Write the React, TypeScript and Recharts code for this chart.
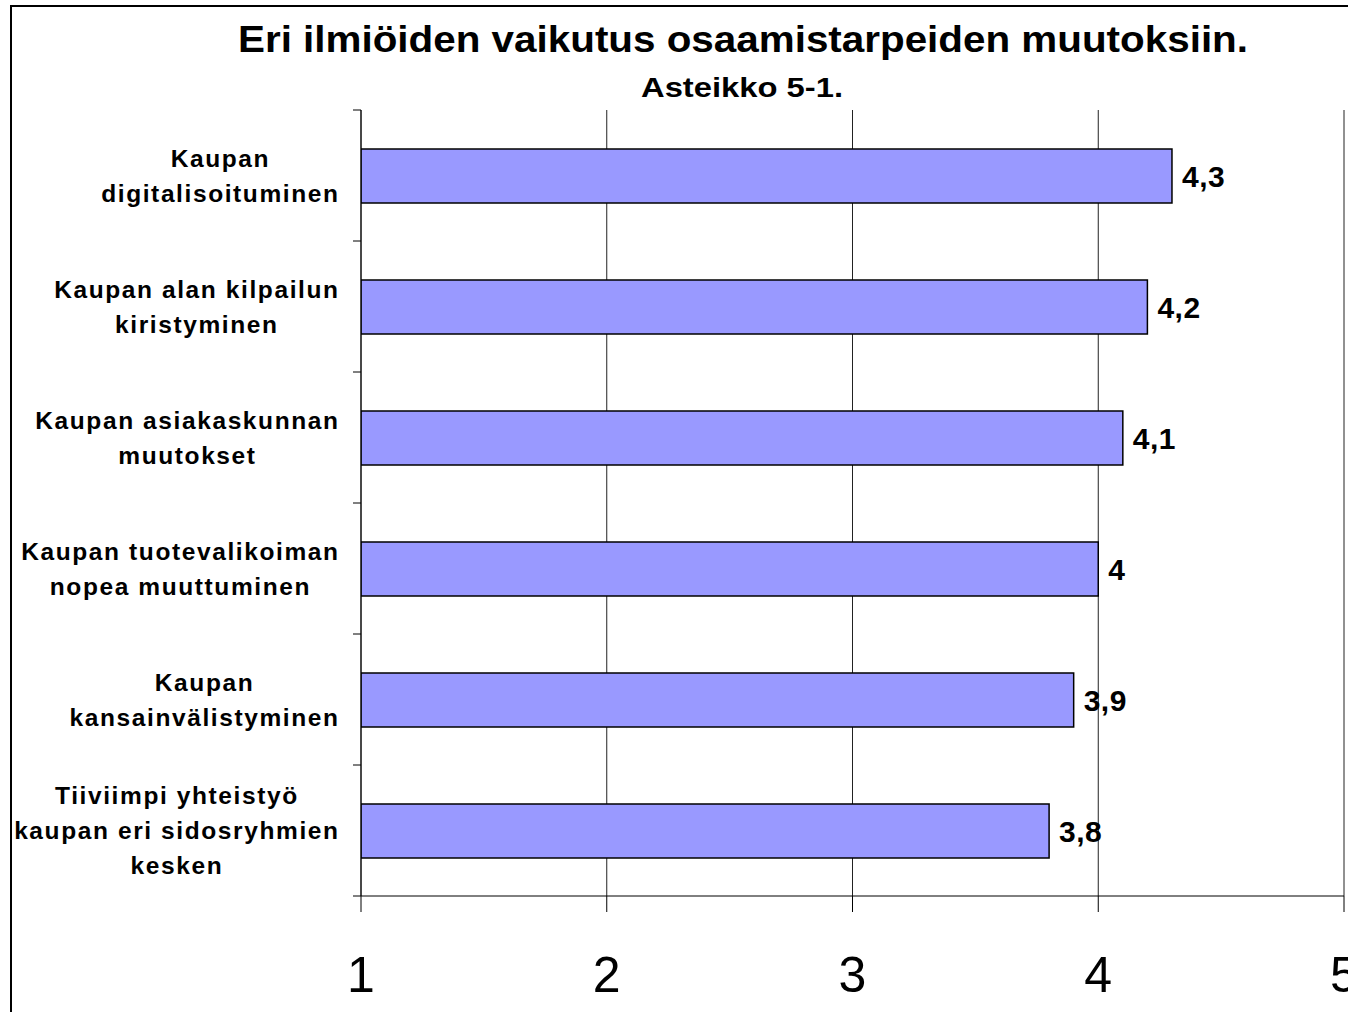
import React from "react";
import { BarChart, Bar, XAxis, YAxis, CartesianGrid, LabelList } from "recharts";

const TITLE = "Eri ilmiöiden vaikutus osaamistarpeiden muutoksiin.";
const SUBTITLE = "Asteikko 5-1.";

const categories: string[][] = [
  ["Kaupan", "digitalisoituminen"],
  ["Kaupan alan kilpailun", "kiristyminen"],
  ["Kaupan asiakaskunnan", "muutokset"],
  ["Kaupan tuotevalikoiman", "nopea muuttuminen"],
  ["Kaupan", "kansainvälistyminen"],
  ["Tiiviimpi yhteistyö", "kaupan eri sidosryhmien", "kesken"],
];
const values: number[] = [4.3, 4.2, 4.1, 4.0, 3.9, 3.8];
const xTicks: number[] = [1, 2, 3, 4, 5];
const xDomain: [number, number] = [1, 5];

const data = categories.map((lines, i) => ({ name: lines.join(" "), lines, value: values[i] }));

const W = 1348;
const H = 1012;
const M_TOP = 110;
const X_AXIS_H = 116;
const Y_AXIS_W = 361;
const M_RIGHT = 4;
const BAND = (H - M_TOP - X_AXIS_H) / categories.length;
const FONT = "'Liberation Sans', Arial, sans-serif";

let canvasCtx: CanvasRenderingContext2D | null = null;
function measure(text: string, font: string): number {
  if (!canvasCtx) {
    const c = document.createElement("canvas");
    canvasCtx = c.getContext("2d");
  }
  if (!canvasCtx) return text.length * 12;
  canvasCtx.font = font;
  return canvasCtx.measureText(text).width;
}

const LBL_SIZE = 24.5;
const LBL_SPACING = 1.6;
const LBL_RIGHT = 338;
const LINE_H = 35;

const CategoryTick = (props: any) => {
  const { payload, index } = props;
  const cy = payload.coordinate;
  const item = data[index] || data.find((d) => d.name === payload.value);
  const lines: string[] = item ? item.lines : [String(payload.value)];
  const font = `bold ${LBL_SIZE}px 'Liberation Sans'`;
  const widths = lines.map((l) => measure(l, font) + LBL_SPACING * (l.length - 1));
  const blockW = Math.max(...widths);
  const cx = LBL_RIGHT - blockW / 2;
  const startY = cy - ((lines.length - 1) * LINE_H) / 2;
  const isLast = index === categories.length - 1;
  return (
    <g>
      <line x1={Y_AXIS_W - 8} x2={Y_AXIS_W} y1={cy - BAND / 2} y2={cy - BAND / 2} stroke="#000" strokeWidth={1} />
      {isLast && (
        <line x1={Y_AXIS_W - 8} x2={Y_AXIS_W} y1={cy + BAND / 2} y2={cy + BAND / 2} stroke="#000" strokeWidth={1} />
      )}
      {lines.map((l, i) => (
        <text
          key={i}
          x={cx + LBL_SPACING / 2}
          y={startY + i * LINE_H}
          dy="0.36em"
          textAnchor="middle"
          fontFamily={FONT}
          fontWeight="bold"
          fontSize={LBL_SIZE}
          letterSpacing={LBL_SPACING}
          fill="#000"
        >
          {l}
        </text>
      ))}
    </g>
  );
};

const XTick = (props: any) => {
  const { payload } = props;
  return (
    <text
      x={payload.coordinate}
      y={992}
      textAnchor="middle"
      fontFamily={FONT}
      fontSize={50}
      fill="#000"
    >
      {payload.value}
    </text>
  );
};

const ValueLabel = (props: any) => {
  const { x, y, width, height, value } = props;
  const tx = x + width + 10;
  const ty = y + height / 2;
  const txt = String(value).replace(".", ",");
  return (
    <text x={tx} y={ty} dy="0.36em" fontFamily={FONT} fontWeight="bold" fontSize={30} letterSpacing={0.5} fill="#000">
      {txt}
    </text>
  );
};

export default function App() {
  return (
    <div style={{ position: "absolute", left: 0, top: 0, width: W, height: H, overflow: "hidden", background: "#fff" }}>
      <div
        style={{
          position: "absolute",
          left: 10,
          top: 5,
          width: W + 50,
          height: H + 50,
          border: "2px solid #000",
          boxSizing: "border-box",
        }}
      />
      <div style={{ position: "absolute", left: 0, top: 0 }}>
        <BarChart
          width={W}
          height={H}
          data={data}
          layout="vertical"
          margin={{ top: M_TOP, right: M_RIGHT, bottom: 0, left: 0 }}
          barCategoryGap={0}
        >
          <CartesianGrid horizontal={false} vertical={true} stroke="#222" strokeWidth={1} />
          <XAxis
            type="number"
            domain={xDomain}
            ticks={xTicks}
            allowDataOverflow
            height={X_AXIS_H}
            tickSize={16}
            axisLine={{ stroke: "#000", strokeWidth: 1 }}
            tickLine={{ stroke: "#000", strokeWidth: 1 }}
            tick={<XTick />}
            interval={0}
          />
          <YAxis
            type="category"
            dataKey="name"
            width={Y_AXIS_W}
            axisLine={{ stroke: "#000", strokeWidth: 1 }}
            tickLine={false}
            tick={<CategoryTick />}
            interval={0}
          />
          <Bar dataKey="value" fill="#9999FF" stroke="#000" strokeWidth={1.5} barSize={54} isAnimationActive={false}>
            <LabelList dataKey="value" content={<ValueLabel />} />
          </Bar>
        </BarChart>
      </div>
      <svg style={{ position: "absolute", left: 0, top: 0, pointerEvents: "none" }} width={W} height={120}>
        <text
          x={743}
          y={52}
          textAnchor="middle"
          fontFamily={FONT}
          fontWeight="bold"
          fontSize={36}
          textLength={1010}
          lengthAdjust="spacingAndGlyphs"
          fill="#000"
        >
          {TITLE}
        </text>
        <text
          x={742}
          y={97}
          textAnchor="middle"
          fontFamily={FONT}
          fontWeight="bold"
          fontSize={27}
          textLength={202}
          lengthAdjust="spacingAndGlyphs"
          fill="#000"
        >
          {SUBTITLE}
        </text>
      </svg>
    </div>
  );
}
